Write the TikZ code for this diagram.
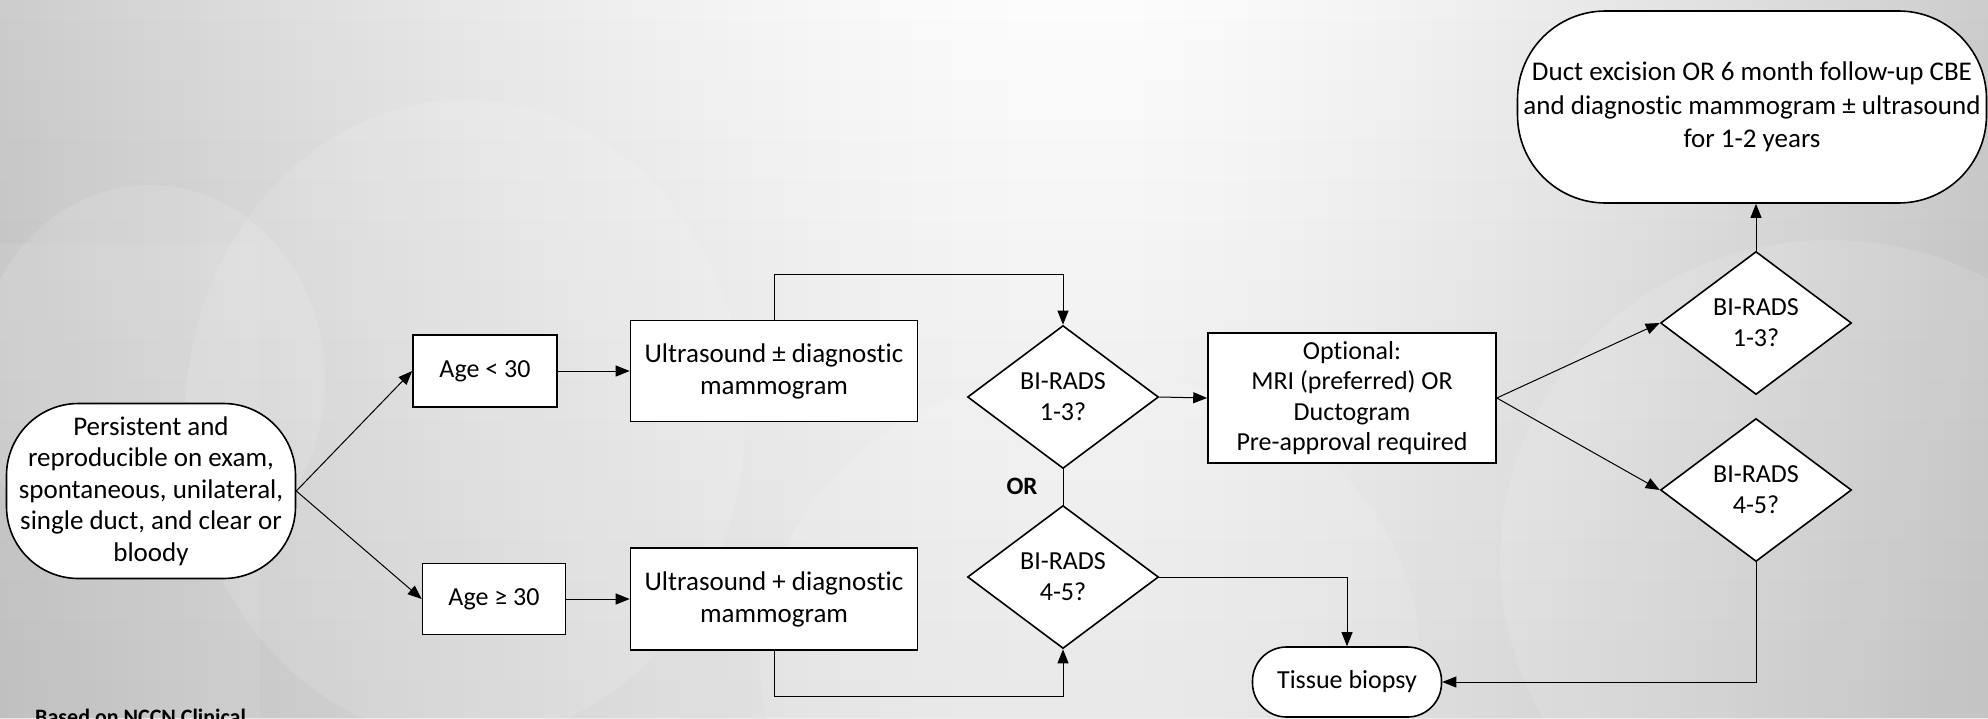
\documentclass[tikz,border=0pt]{standalone}
\usepackage{fontspec}
\setmainfont{Carlito}[RawFeature={-liga;-clig}]
\usetikzlibrary{shapes.geometric,arrows.meta,calc}
\begin{document}
\begin{tikzpicture}[x=1pt,y=-1pt,
  txt/.style={font=\fontsize{26}{31}\selectfont},
  box/.style={txt,draw=black,line width=1.6pt,fill=white,align=center,inner sep=2pt,rectangle},
  dia/.style={txt,diamond,draw=black,line width=1.6pt,fill=white,align=center,inner sep=0pt,minimum width=191pt,minimum height=143pt},
  arr/.style={line width=1pt,-{Triangle[length=14pt,width=11pt]}},
  ln/.style={line width=1pt},
  bgc/.style={fill=white,opacity=0.12}]
\useasboundingbox (0,0) rectangle (1988,718);
\clip (0,0) rectangle (1988,718);
% background gradient (drawn as thin strips)
\foreach \i in {0,...,248}{
  \pgfmathsetmacro\xx{\i*8+4}
  \pgfmathsetmacro\dd{abs(\xx-1080)/(\xx<1080 ? 1080 : 908)}
  \pgfmathsetmacro\g{1+19*\dd*sqrt(\dd)}
  \fill[black!\g] (\i*8,0) rectangle (\i*8+8.6,718);
}
\foreach \j in {0,...,35}{
  \pgfmathsetmacro\op{0.085*(\j+0.5)/36}
  \fill[black,opacity=\op] (0,\j*20) rectangle (1988,\j*20+20);
}
\fill[bgc] (150,380) ellipse (175 and 195);
\fill[bgc] (465,420) ellipse (280 and 320);
\fill[bgc] (1090,660) ellipse (330 and 290);
\fill[bgc] (1830,560) ellipse (330 and 320);
\fill[white,opacity=0.08] (0,243) rectangle (260,718);
% nodes
\node[box,font=\fontsize{27}{31.5}\selectfont,rounded corners=72pt,minimum width=289pt,minimum height=175pt] (start) at (151,491)
  {Persistent and\\reproducible on exam,\\spontaneous, unilateral,\\single duct, and clear or\\bloody};
\node[box,minimum width=144pt,minimum height=72pt] (age1) at (485,371) {Age < 30};
\node[box,minimum width=143pt,minimum height=71pt] (age2) at (494,599) {Age ≥  30};
\node[box,font=\fontsize{27}{32}\selectfont,minimum width=287pt,minimum height=101pt] (us1) at (774,371) {Ultrasound ± diagnostic\\mammogram};
\node[box,font=\fontsize{27}{32}\selectfont,minimum width=287pt,minimum height=102pt] (us2) at (774,599) {Ultrasound + diagnostic\\mammogram};
\node[dia] (d1) at (1063,397) {BI-RADS\\1-3?};
\node[dia] (d2) at (1063,577) {BI-RADS\\4-5?};
\node[txt,font=\fontsize{25}{30}\selectfont\bfseries] (or) at (1022,486) {OR};
\node[box,font=\fontsize{26}{30.5}\selectfont,minimum width=288pt,minimum height=130pt] (opt) at (1352,398)
  {Optional:\\MRI (preferred) OR\\Ductogram\\Pre-approval required};
\node[box,rounded corners=34pt,minimum width=189pt,minimum height=70pt] (tb) at (1347,682) {Tissue biopsy};
\node[dia] (r1) at (1756,323) {BI-RADS\\1-3?};
\node[dia] (r2) at (1756,490) {BI-RADS\\4-5?};
\node[box,font=\fontsize{27}{33.5}\selectfont,rounded corners=88pt,minimum width=469pt,minimum height=192pt] (end) at (1752,107)
  {Duct excision OR 6 month follow-up CBE\\and diagnostic mammogram ± ultrasound\\for 1-2 years};
\node[font=\fontsize{22}{26}\selectfont\bfseries,anchor=base west,inner sep=0pt] (note) at (35,724) {Based on NCCN Clinical};
% connectors
\draw[arr] (start.east) -- (age1.west);
\draw[arr] (start.east) -- (age2.west);
\draw[arr] (age1) -- (us1);
\draw[arr] (age2) -- (us2);
\draw[arr] (us1.north) -- ++(0,-45) -| (d1.north);
\draw[arr] (us2.south) -- ++(0,46) -| (d2.south);
\draw[arr] (d1.east) -- (opt.west);
\draw[ln] (d1.south) -- (d2.north);
\draw[arr] (d2.east) -| (tb.north);
\draw[arr] (opt.east) -- (r1.west);
\draw[arr] (opt.east) -- (r2.west);
\draw[arr] (r1.north) -- (r1.north |- end.south);
\draw[arr] (r2.south) |- (tb.east);
\end{tikzpicture}
\end{document}
